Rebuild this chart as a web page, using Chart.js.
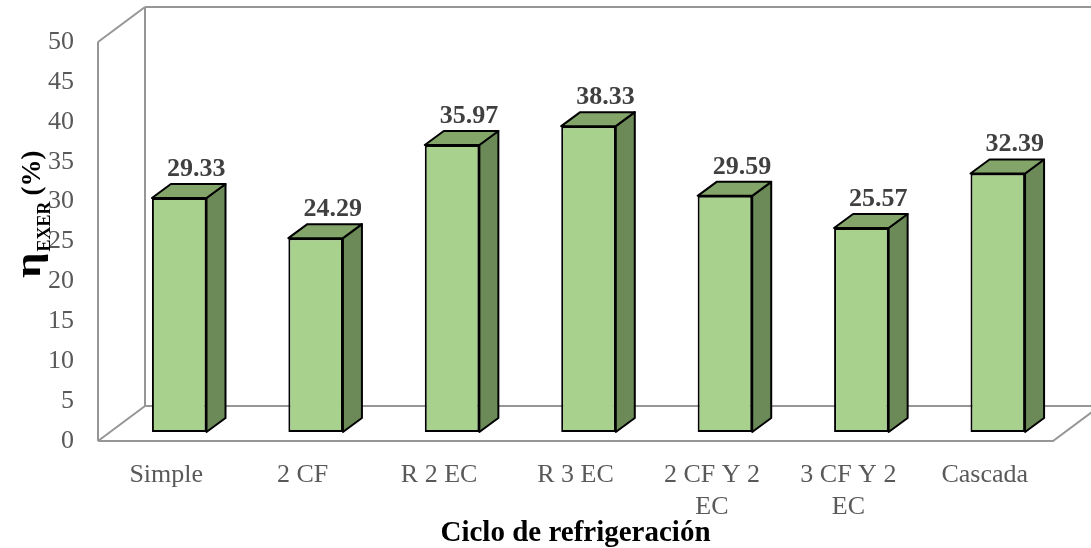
<!DOCTYPE html>
<html>
<head>
<meta charset="utf-8">
<script src="https://cdn.jsdelivr.net/npm/chart.js@4.4.0/dist/chart.umd.min.js"></script>
<style>
  html, body { margin: 0; padding: 0; background: #fff; }
  #wrap { width: 1091px; height: 548px; }
</style>
</head>
<body>
<div id="wrap"><canvas id="chart"></canvas></div>
<script>
const ciclos = ['Simple', '2 CF', 'R 2 EC', 'R 3 EC', ['2 CF Y 2', 'EC'], ['3 CF Y 2', 'EC'], 'Cascada'];
const eficiencia = [29.33, 24.29, 35.97, 38.33, 29.59, 25.57, 32.39];
const yMin = 0, yMax = 50, yPaso = 5;

const SERIF = "'Liberation Serif', 'Times New Roman', serif";
const CAJA = { dx: 47, dy: -35 };      // depth of the walls/floor
const PLANO = { dx: 13, dy: -9 };      // plane the bars stand on
const PROF = { dx: 19, dy: -14 };      // depth of each bar
const VERDE = { frente: '#a9d18e', lado: '#6b8a58', tapa: '#84a56a' };

function poligono(ctx, pts, fill) {
  ctx.beginPath();
  ctx.moveTo(pts[0][0], pts[0][1]);
  for (let i = 1; i < pts.length; i++) ctx.lineTo(pts[i][0], pts[i][1]);
  ctx.closePath();
  ctx.fillStyle = fill;
  ctx.fill();
  ctx.stroke();
}

const caja3d = {
  id: 'caja3d',
  beforeDatasetsDraw(chart) {
    const { ctx, chartArea: a } = chart;
    const { dx, dy } = CAJA;
    ctx.save();
    ctx.strokeStyle = '#969696';
    ctx.lineWidth = 2;
    ctx.beginPath();
    // pared izquierda
    ctx.moveTo(a.left, a.top); ctx.lineTo(a.left, a.bottom);
    ctx.moveTo(a.left, a.top); ctx.lineTo(a.left + dx, a.top + dy);
    ctx.moveTo(a.left, a.bottom); ctx.lineTo(a.left + dx, a.bottom + dy);
    // pared del fondo
    ctx.moveTo(a.left + dx, a.top + dy); ctx.lineTo(a.left + dx, a.bottom + dy);
    ctx.moveTo(a.left + dx, a.top + dy); ctx.lineTo(a.right + dx, a.top + dy);
    ctx.moveTo(a.left + dx, a.bottom + dy); ctx.lineTo(a.right + dx, a.bottom + dy);
    // piso
    ctx.moveTo(a.left, a.bottom); ctx.lineTo(a.right, a.bottom);
    ctx.lineTo(a.right + dx, a.bottom + dy);
    ctx.stroke();
    ctx.restore();

    ctx.save();
    ctx.translate(PLANO.dx, PLANO.dy);
  },
  afterDatasetsDraw(chart) {
    const { ctx } = chart;
    const meta = chart.getDatasetMeta(0);
    ctx.lineWidth = 2;
    ctx.strokeStyle = '#000';
    ctx.lineJoin = 'round';
    meta.data.forEach(bar => {
      const { x, y, base, width } = bar.getProps(['x', 'y', 'base', 'width'], true);
      const l = x - width / 2, r = x + width / 2;
      poligono(ctx, [[r, y], [r + PROF.dx, y + PROF.dy], [r + PROF.dx, base + PROF.dy], [r, base]], VERDE.lado);
      poligono(ctx, [[l, y], [l + PROF.dx, y + PROF.dy], [r + PROF.dx, y + PROF.dy], [r, y]], VERDE.tapa);
    });
    ctx.restore();

    // etiquetas de valor
    ctx.save();
    ctx.font = 'bold 26px ' + SERIF;
    ctx.fillStyle = '#404040';
    ctx.textAlign = 'center';
    ctx.textBaseline = 'middle';
    meta.data.forEach((bar, i) => {
      ctx.fillText(eficiencia[i].toFixed(2), bar.x + PLANO.dx + 17, bar.y + PLANO.dy - 29);
    });
    ctx.restore();
  },
  afterDraw(chart) {
    // título del eje Y: η con subíndice EXER
    const { ctx } = chart;
    ctx.save();
    ctx.translate(40, 278);
    ctx.rotate(-Math.PI / 2);
    ctx.fillStyle = '#000';
    ctx.textBaseline = 'alphabetic';
    let px = 0;

    ctx.font = 'bold 36px ' + SERIF;
    const wEta = ctx.measureText('η').width;
    ctx.save();
    ctx.scale(1.25, 1);
    ctx.fillText('η', 0, 0);
    ctx.restore();
    px += wEta * 1.25 + 1;

    ctx.font = 'bold 18px ' + SERIF;
    ctx.fillText('EXER', px, 10);
    px += ctx.measureText('EXER').width + 6;

    ctx.font = 'bold 27px ' + SERIF;
    ctx.fillText('(%)', px, 0);
    ctx.restore();
  }
};

new Chart(document.getElementById('chart'), {
  type: 'bar',
  data: {
    labels: ciclos,
    datasets: [{
      data: eficiencia,
      backgroundColor: VERDE.frente,
      borderColor: '#000',
      borderWidth: 2,
      borderSkipped: false,
      barPercentage: 0.4,
      categoryPercentage: 1,
      clip: false
    }]
  },
  options: {
    responsive: true,
    maintainAspectRatio: false,
    animation: false,
    layout: { padding: { top: 42, right: 38, left: 0, bottom: 0 } },
    plugins: { legend: { display: false }, tooltip: { enabled: false } },
    scales: {
      x: {
        grid: { display: false, drawTicks: false },
        border: { display: false },
        ticks: { color: '#595959', font: { family: SERIF, size: 26 }, padding: 19, maxRotation: 0, autoSkip: false },
        title: { display: true, text: 'Ciclo de refrigeración', color: '#000', font: { family: SERIF, size: 29, weight: 'bold' }, padding: { top: -3, bottom: -3 } },
        afterFit: s => { s.height = 107; }
      },
      y: {
        min: yMin, max: yMax,
        grid: { display: false, drawTicks: false },
        border: { display: false },
        ticks: { stepSize: yPaso, color: '#595959', font: { family: SERIF, size: 26 }, padding: 24 },
        afterFit: s => { s.width = 98; }
      }
    }
  },
  plugins: [caja3d]
});
</script>
</body>
</html>
